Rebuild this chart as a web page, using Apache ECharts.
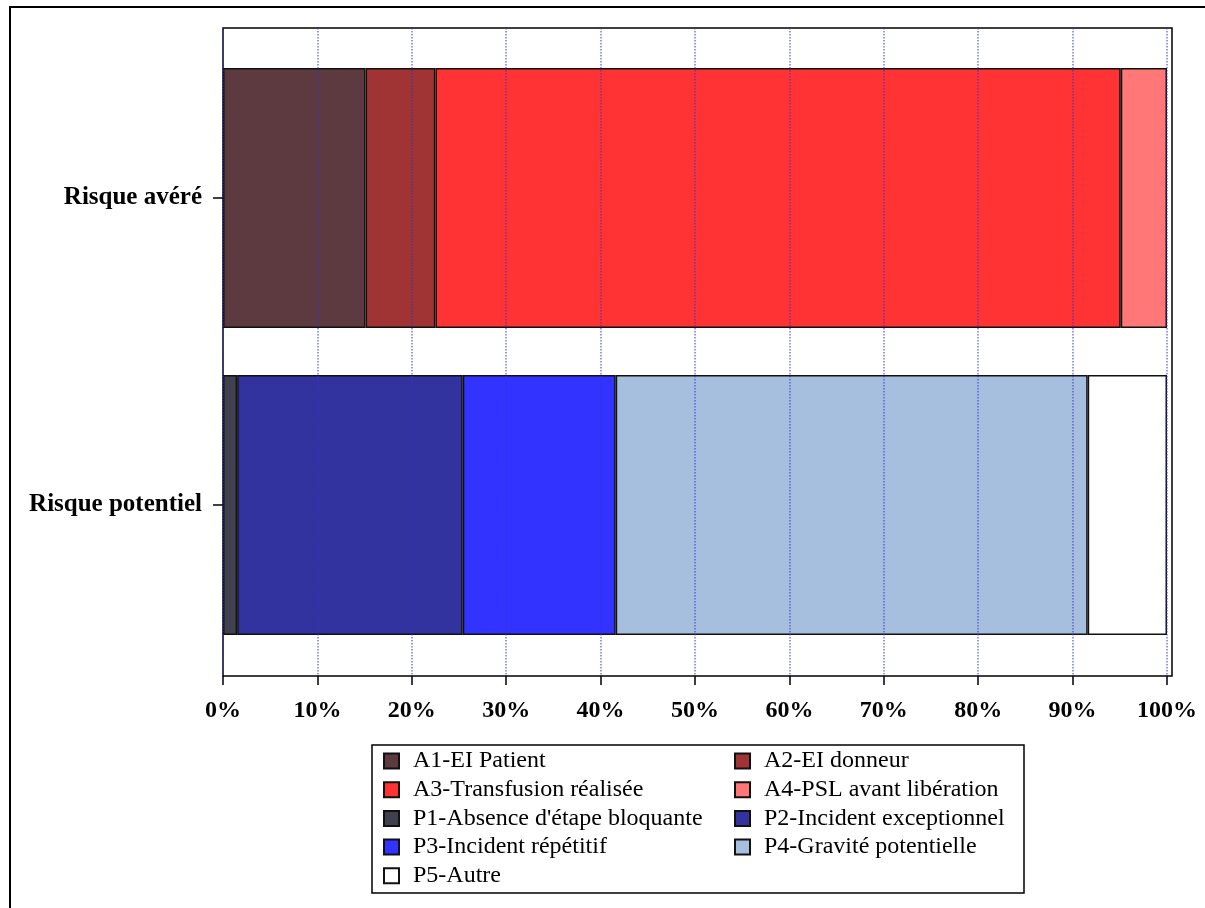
<!DOCTYPE html>
<html>
<head>
<meta charset="utf-8">
<script src="https://cdn.jsdelivr.net/npm/echarts@6/dist/echarts.min.js"></script>
<style>
  html, body { margin: 0; background: #fff; }
  #chart { width: 1205px; height: 908px; }
</style>
</head>
<body>
<div id="chart"></div>
<script>
// categories (top to bottom)
const categories = ['Risque avéré', 'Risque potentiel']

// series of "Risque avéré" (percent)
const avereNames = ['A1-EI Patient', 'A2-EI donneur', 'A3-Transfusion réalisée', 'A4-PSL avant libération']
const avereValues = [15.1, 7.4, 72.6, 4.9]

// series of "Risque potentiel" (percent)
const potentielNames = ["P1-Absence d'étape bloquante", 'P2-Incident exceptionnel', 'P3-Incident répétitif', 'P4-Gravité potentielle', 'P5-Autre']
const potentielValues = [1.5, 23.9, 16.2, 50.0, 8.4]

const avereColors = ['#5c3a40', '#a03333', '#ff3333', '#ff7777']
const potentielColors = ['#40404f', '#3333a0', '#3333ff', '#a7bfdf', '#ffffff']

const FONT = '"Liberation Serif", "DejaVu Serif", serif'

const chart = echarts.init(document.getElementById('chart'))

const series = []
avereNames.forEach((name, i) => {
  series.push({
    name,
    type: 'bar',
    stack: 'total',
    xAxisIndex: 2,
    yAxisIndex: 2,
    barWidth: 260,
    data: [avereValues[i], null],
    itemStyle: { color: avereColors[i], borderColor: '#111', borderWidth: 1.5 }
  })
})
potentielNames.forEach((name, i) => {
  series.push({
    name,
    type: 'bar',
    stack: 'total',
    xAxisIndex: 2,
    yAxisIndex: 2,
    barWidth: 260,
    data: [null, potentielValues[i]],
    itemStyle: { color: potentielColors[i], borderColor: '#111', borderWidth: 1.5 }
  })
})

// legend in two columns: one legend per column
const legendBase = {
  orient: 'vertical',
  top: 749,
  padding: 0,
  itemWidth: 15,
  itemHeight: 15,
  itemGap: 4.7,
  icon: 'rect',
  selectedMode: false,
  textStyle: { fontFamily: FONT, fontSize: 24, color: '#000', lineHeight: 24, padding: [0, 0, 0, 9] }
}

const option = {
  animation: false,
  graphic: [
    {
      type: 'rect',
      shape: { x: 10, y: 7, width: 1400, height: 1100 },
      style: { fill: 'none', stroke: '#000', lineWidth: 2 },
      silent: true
    },
    {
      type: 'rect',
      shape: { x: 372, y: 745, width: 652, height: 148 },
      style: { fill: 'none', stroke: '#000', lineWidth: 1.5 },
      silent: true
    }
  ],
  grid: [
    // frame of the plot area
    { left: 223, top: 28, width: 949, height: 648, show: true, borderColor: '#000', borderWidth: 1.5, backgroundColor: 'transparent' },
    // percent axis
    { left: 223, top: 28, width: 944, height: 648 },
    // bars
    { left: 223, top: 44.5, width: 944, height: 614 }
  ],
  xAxis: [
    { gridIndex: 0, type: 'value', show: false },
    {
      gridIndex: 1,
      type: 'value',
      min: 0,
      max: 100,
      interval: 10,
      z: 5,
      axisLine: { show: false },
      axisTick: { show: true, length: 9, lineStyle: { color: '#000', width: 1.5 } },
      axisLabel: {
        margin: 23,
        formatter: '{value}%',
        fontFamily: FONT,
        fontSize: 24,
        fontWeight: 'bold',
        color: '#000'
      },
      splitLine: { show: true, lineStyle: { type: 'dotted', color: 'rgba(50,50,210,0.65)', width: 1.5 } }
    },
    { gridIndex: 2, type: 'value', min: 0, max: 100, show: false }
  ],
  yAxis: [
    { gridIndex: 0, type: 'value', show: false },
    { gridIndex: 1, type: 'value', show: false },
    {
      gridIndex: 2,
      type: 'category',
      inverse: true,
      data: categories,
      axisLine: { show: false },
      axisTick: { show: true, alignWithLabel: true, length: 10, lineStyle: { color: '#000', width: 1.5 } },
      axisLabel: {
        margin: 21,
        fontFamily: FONT,
        fontSize: 25,
        fontWeight: 'bold',
        color: '#000'
      }
    }
  ],
  legend: [
    Object.assign({}, legendBase, {
      left: 383,
      data: [avereNames[0], avereNames[2], potentielNames[0], potentielNames[2], potentielNames[4]]
    }),
    Object.assign({}, legendBase, {
      left: 734,
      data: [avereNames[1], avereNames[3], potentielNames[1], potentielNames[3]]
    })
  ],
  series
}

chart.setOption(option)
</script>
</body>
</html>
